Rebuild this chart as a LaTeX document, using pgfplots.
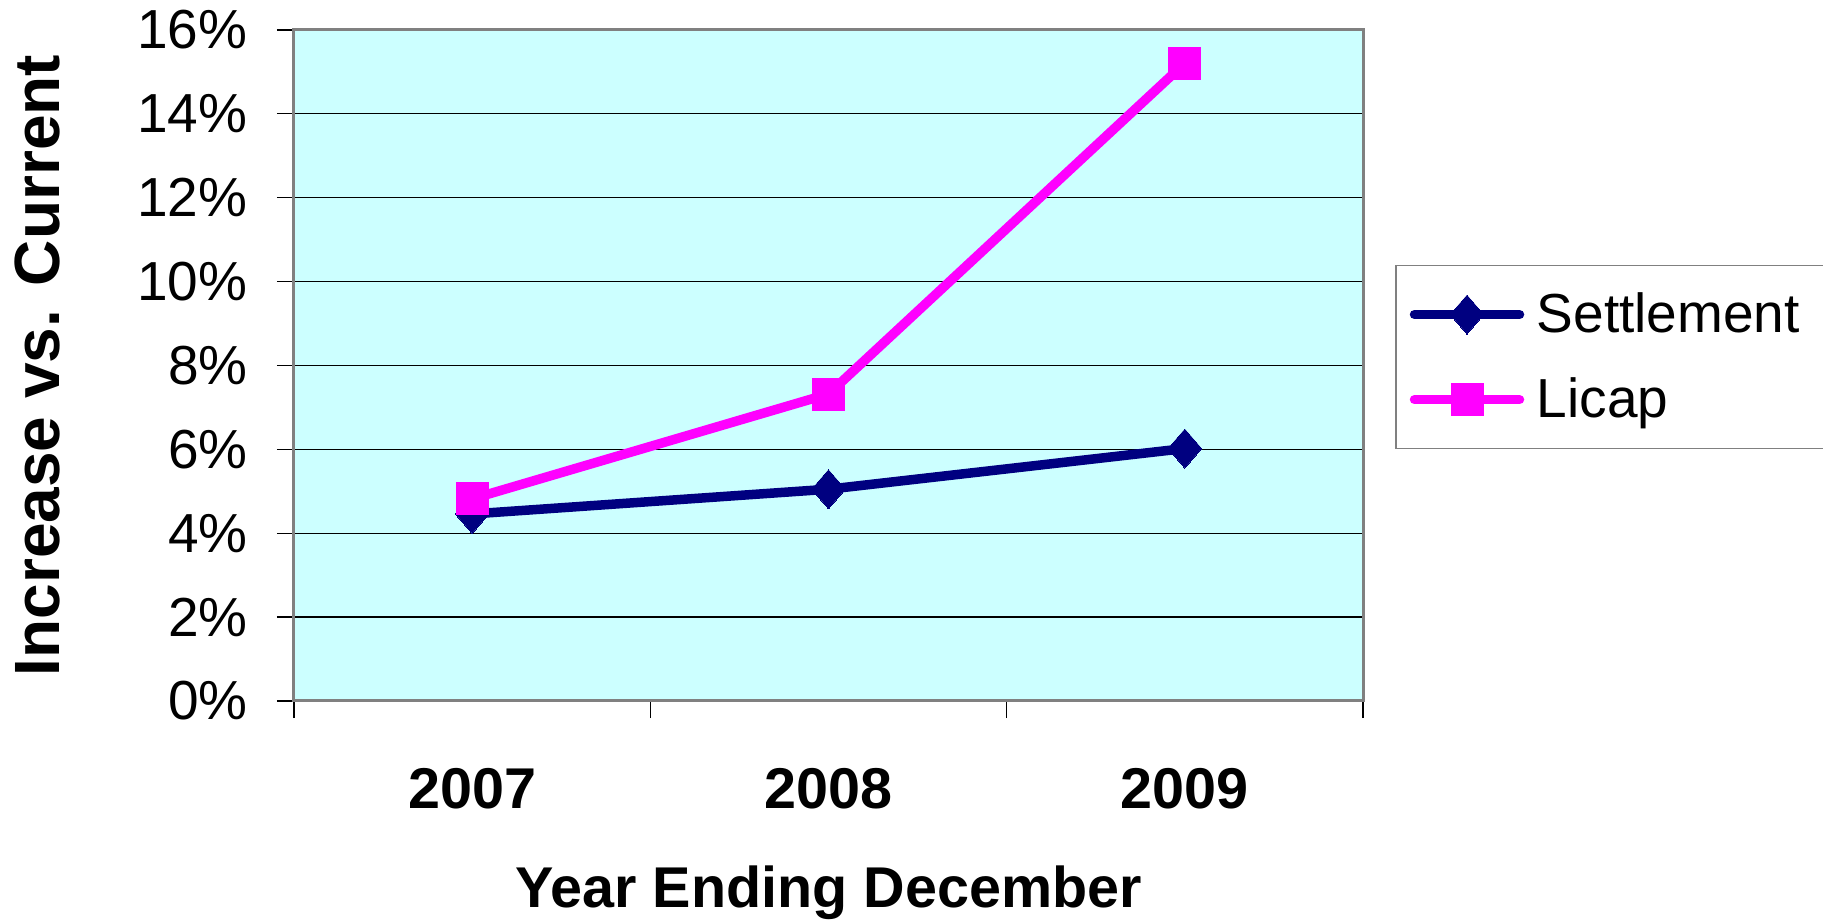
\documentclass[border=0pt]{standalone}
\usepackage{fontspec}
\setmainfont{Liberation Sans}
\usepackage{pgfplots}
\pgfplotsset{compat=1.18}
\definecolor{settle}{HTML}{000080}
\definecolor{licap}{HTML}{FF00FF}
\definecolor{plotbg}{HTML}{CCFFFF}
\definecolor{frame}{HTML}{808080}

\begin{document}
\begin{tikzpicture}
\begin{axis}[
	name=ax,
	scale only axis,
	width=427.6pt,
	height=268.4pt,
	xmin=-0.5, xmax=2.5,
	ymin=0, ymax=16,
	axis background/.style={fill=plotbg},
	axis line style={draw=frame, line width=1.2pt},
	tick align=outside,
	major tick length=6.8pt,
	tick style={black, line width=0.5pt},
	xtick pos=bottom, ytick pos=left,
	xtick={-0.5,0.5,1.5,2.5},
	xticklabels={2007,2008,2009,},
	xticklabel style={font=\bfseries\fontsize{23}{23}\selectfont, anchor=base, inner sep=0pt, xshift=71.27pt, yshift=-36pt},
	ytick={0,2,...,16},
	yticklabels={0\%,2\%,4\%,6\%,8\%,10\%,12\%,14\%,16\%},
	yticklabel style={font=\fontsize{22}{22}\selectfont, anchor=east, inner sep=0pt, xshift=-11.6pt},
	ymajorgrids=true,
	grid style={black, line width=0.5pt},
	xlabel={Year Ending December},
	xlabel style={at={([yshift=-82.6pt]axis description cs:0.5,0)}, anchor=base, inner sep=0pt, font=\bfseries\fontsize{23}{23}\selectfont},
	ylabel={Increase vs. Current},
	ylabel style={at={([xshift=-93.6pt]axis description cs:0,0.5)}, anchor=base, inner sep=0pt, font=\bfseries\fontsize{25.6}{25.6}\selectfont},
	legend style={at={(1,1)}, anchor=north west, xshift=12.8pt, yshift=-94pt,
		draw=frame, line width=0.6pt, fill=white,
		inner xsep=5.6pt, inner ysep=10.8pt, row sep=16.6pt, column sep=5pt,
		font=\fontsize{22}{22}\selectfont, nodes={inner sep=0pt}},
	legend cell align=left,
	legend image code/.code={
		\draw[mark repeat=2, mark phase=2, #1] plot coordinates {(0pt,0pt) (21pt,0pt) (42pt,0pt)};
	},
]
\addplot[settle, line width=3.8pt, line cap=round, line join=round, mark=diamond*, mark size=7.8pt, mark options={solid, line width=0pt, xscale=1.15}]
	coordinates {(0,4.46) (1,5.05) (2,6.02)};
\addlegendentry{Settlement\hspace*{12pt}}
\addplot[licap, line width=3.8pt, line cap=round, line join=round, mark=square*, mark size=6.4pt, mark options={solid, line width=0pt}]
	coordinates {(0,4.82) (1,7.32) (2,15.21)};
\addlegendentry{Licap}
\end{axis}
\pgfresetboundingbox
\path ([xshift=-117.6pt,yshift=-88pt]ax.south west) rectangle ([xshift=184pt,yshift=12pt]ax.north east);
\end{tikzpicture}
\end{document}
